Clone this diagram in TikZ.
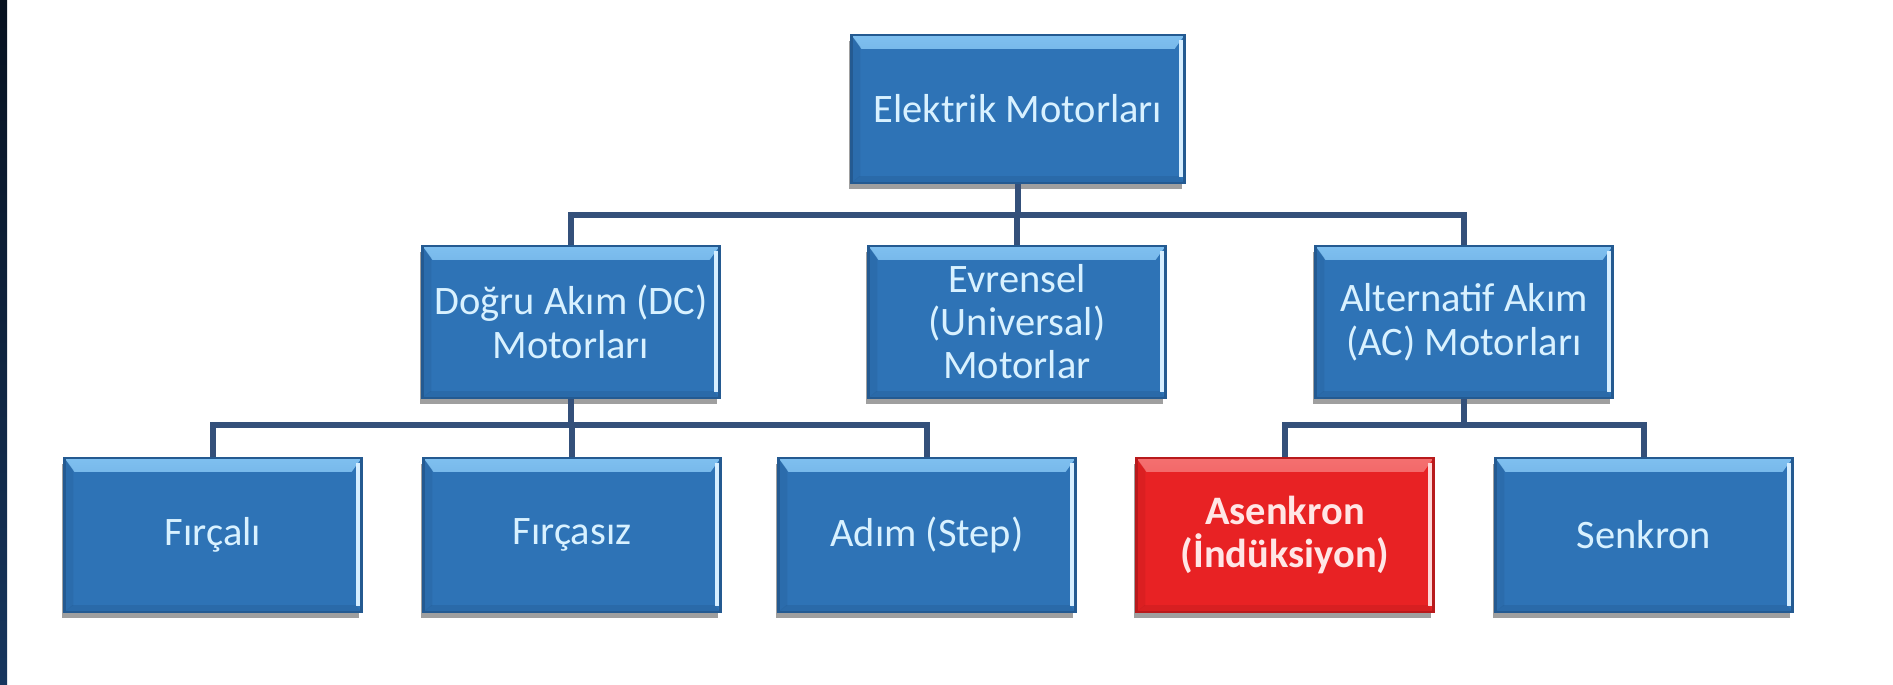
\documentclass[tikz,border=0pt]{standalone}
\usepackage{fontspec}
\setmainfont{Carlito}
\usetikzlibrary{calc,shadows}
\definecolor{bbase}{HTML}{2E73B6}
\definecolor{bdark}{HTML}{245A91}
\definecolor{bbev}{HTML}{7FC0F0}
\definecolor{bhi}{HTML}{D6EEFF}
\definecolor{rbase}{HTML}{E82224}
\definecolor{rdark}{HTML}{B81A1C}
\definecolor{rbev}{HTML}{F47070}
\definecolor{rhi}{HTML}{FFD8D8}
\definecolor{txt}{HTML}{D8F1FF}
\definecolor{rtxt}{HTML}{FFE6E6}
\definecolor{conn}{HTML}{34507A}
\definecolor{bartop}{HTML}{07111F}
\definecolor{barbot}{HTML}{17365E}
\tikzset{
  every node/.style={font=\fontsize{11.5}{12.4}\selectfont},
  boxbase/.style={draw=#1dark, line width=0.8pt, fill=#1base, align=center,
    minimum width=2.97cm, minimum height=1.52cm, inner sep=1pt,
    drop shadow={shadow xshift=-0.6pt, shadow yshift=-1.8pt, opacity=0.5, fill=black!75},
    path picture={
      \fill[top color=#1bev, bottom color=#1base]
        (path picture bounding box.north west) -- (path picture bounding box.north east)
        -- ($(path picture bounding box.north east)+(-10,14)$)
        -- ($(path picture bounding box.north west)+(10,14)$) -- cycle;
      \fill[#1hi]
        ($(path picture bounding box.north east)+(-6,5)$) rectangle
        ($(path picture bounding box.south east)+(-2,-6)$);
      \fill[#1dark, opacity=0.35]
        (path picture bounding box.south west) -- (path picture bounding box.south east)
        -- ($(path picture bounding box.south east)+(-6,-7)$)
        -- ($(path picture bounding box.south west)+(8,-7)$) -- cycle;
      \fill[#1dark, opacity=0.25]
        (path picture bounding box.north west) -- ($(path picture bounding box.north west)+(9,12)$)
        -- ($(path picture bounding box.south west)+(9,-7)$) -- (path picture bounding box.south west) -- cycle;
    }},
  bluebox/.style={boxbase=b, text=txt},
  redbox/.style={boxbase=r, text=rtxt, font=\fontsize{11.5}{12.4}\selectfont\bfseries},
  link/.style={draw=conn, line width=1.5pt},
}
\begin{document}
\begin{tikzpicture}[x=0.01cm, y=-0.01cm]
\useasboundingbox (0,0) rectangle (1893,685);
\fill[white] (0,0) rectangle (1893,685);
\shade[top color=bartop, bottom color=barbot] (0,0) rectangle (7,685);

\coordinate (b1) at (0,215);
\coordinate (b2) at (0,425);

\node[bluebox, minimum width=3.33cm, minimum height=1.48cm] (top) at (1018,109) {Elektrik Motorları};
\node[bluebox] (dc) at (571,322) {Doğru Akım (DC)\\Motorları};
\node[bluebox, font=\fontsize{11.5}{12.2}\selectfont] (ev) at (1017,322) {Evrensel\\(Universal)\\Motorlar};
\node[bluebox] (ac) at (1464,322) {Alternatif Akım\\(AC) Motorları};
\node[bluebox, minimum height=1.54cm] (f1) at (213,535) {Fırçalı};
\node[bluebox, minimum height=1.54cm] (f2) at (572,535) {Fırçasız};
\node[bluebox, minimum height=1.54cm] (f3) at (927,535) {Adım (Step)};
\node[redbox, minimum height=1.54cm] (as) at (1285,535) {Asenkron\\(İndüksiyon)};
\node[bluebox, minimum height=1.54cm] (sk) at (1644,535) {Senkron};

\draw[link] (top.south) -- (top.south |- b1);
\draw[link] (dc.north) -- (dc.north |- b1) -| (ac.north);
\draw[link] (ev.north) -- (ev.north |- b1);
\draw[link] (dc.south) -- (dc.south |- b2);
\draw[link] (f1.north) -- (f1.north |- b2) -| (f3.north);
\draw[link] (f2.north) -- (f2.north |- b2);
\draw[link] (ac.south) -- (ac.south |- b2);
\draw[link] (as.north) -- (as.north |- b2) -| (sk.north);
\end{tikzpicture}
\end{document}
